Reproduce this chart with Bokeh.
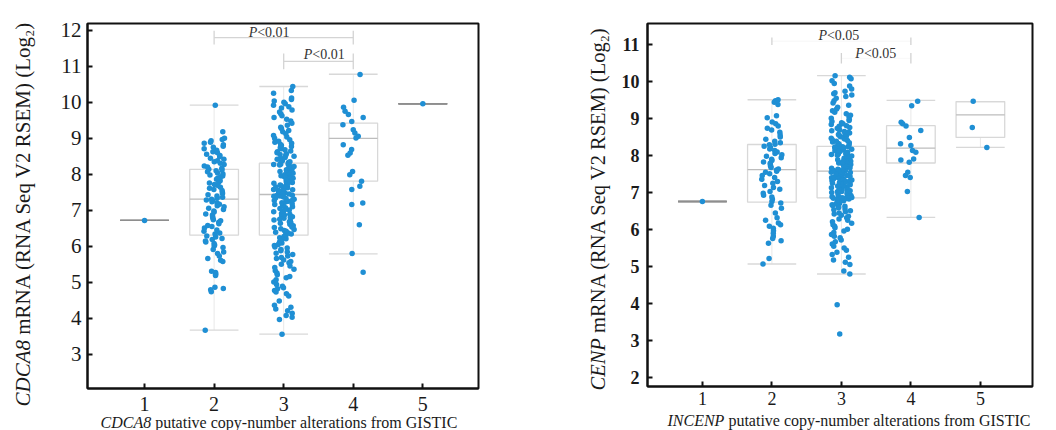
import math
from bokeh.plotting import figure
from bokeh.layouts import row
from bokeh.models import FixedTicker, Label, ColumnDataSource, Range1d
from bokeh.core.properties import value
from bokeh.embed import file_html
from bokeh.resources import INLINE

FONT = "Liberation Serif"

# ---------------- data ----------------
groups = [1, 2, 3, 4, 5]

# CDCA8 expression per copy-number group
cdca8_g1 = [6.72]
cdca8_g2 = [3.67, 4.74, 4.79, 4.83, 4.86, 5.19, 5.22, 5.24, 5.27, 5.31, 5.58, 5.61, 5.66, 5.73, 5.80,
            5.84, 5.91, 5.97, 6.01, 6.04, 6.08, 6.12, 6.15, 6.19, 6.22, 6.26, 6.29,
            6.34, 6.37, 6.42, 6.45, 6.51, 6.55, 6.58, 6.63, 6.67, 6.71, 6.74, 6.79, 6.82, 6.87,
            6.90, 6.95, 6.98, 7.02, 7.06, 7.10, 7.13, 7.17, 7.21, 7.24, 7.27, 7.29, 7.31,
            7.34, 7.36, 7.40, 7.43, 7.47, 7.50, 7.55, 7.58, 7.61, 7.64, 7.69, 7.72, 7.76, 7.79,
            7.82, 7.86, 7.89, 7.92, 7.95, 7.98, 8.01, 8.04, 8.07, 8.10, 8.12, 8.14,
            8.17, 8.20, 8.23, 8.27, 8.31, 8.35, 8.38, 8.42, 8.45, 8.49, 8.52, 8.56, 8.60, 8.63,
            8.67, 8.71, 8.75, 8.78, 8.82, 8.86, 8.89, 8.93, 8.97, 9.00, 9.18, 9.92]
cdca8_g3 = [3.56, 3.97, 4.03, 4.08, 4.14, 4.21, 4.26, 4.31, 4.36, 4.48, 4.62, 4.68, 4.73, 4.77, 4.82,
            4.85, 4.89, 4.94, 5.01, 5.07, 5.13, 5.16, 5.21, 5.26, 5.32, 5.36, 5.41, 5.45, 5.50,
            5.54, 5.58, 5.62, 5.66, 5.69, 5.73, 5.77, 5.81, 5.84, 5.88, 5.91, 5.95, 5.98, 6.02,
            6.05, 6.09, 6.12, 6.15, 6.18, 6.21, 6.24, 6.27, 6.30,
            6.32, 6.34, 6.37, 6.39, 6.42, 6.44, 6.47, 6.49, 6.52, 6.54, 6.57, 6.59, 6.61, 6.64,
            6.66, 6.68, 6.71, 6.73, 6.75, 6.78, 6.80, 6.82, 6.85, 6.87, 6.89, 6.91, 6.94, 6.96,
            6.98, 7.01, 7.03, 7.05, 7.07, 7.10, 7.12, 7.14, 7.16, 7.18, 7.21, 7.23, 7.25, 7.27,
            7.29, 7.31, 7.33, 7.35, 7.37, 7.39, 7.40, 7.41, 7.42, 7.43,
            7.45, 7.47, 7.48, 7.50, 7.52, 7.53, 7.55, 7.57, 7.58, 7.60, 7.62, 7.63, 7.65, 7.67,
            7.68, 7.70, 7.72, 7.73, 7.75, 7.77, 7.78, 7.80, 7.82, 7.84, 7.85, 7.87, 7.89, 7.90,
            7.92, 7.94, 7.96, 7.97, 7.99, 8.01, 8.03, 8.04, 8.06, 8.08, 8.10, 8.12, 8.13, 8.15,
            8.17, 8.19, 8.21, 8.22, 8.24, 8.26, 8.27, 8.28, 8.29, 8.30,
            8.33, 8.35, 8.38, 8.40, 8.42, 8.45, 8.47, 8.50, 8.52, 8.55, 8.57, 8.60, 8.63, 8.65,
            8.68, 8.71, 8.74, 8.77, 8.80, 8.83, 8.86, 8.89, 8.92, 8.96, 9.00, 9.04, 9.08, 9.13,
            9.18, 9.22, 9.27, 9.31, 9.36, 9.42, 9.48, 9.53, 9.58, 9.63, 9.68, 9.73, 9.79, 9.84,
            9.88, 9.92, 9.96, 10.00, 10.04, 10.08, 10.12, 10.25, 10.33, 10.44]
cdca8_g4 = [10.77, 10.06, 9.86, 9.75, 9.66, 9.58, 9.47, 9.38, 9.24, 9.15, 9.06, 9.01, 8.82, 8.69,
            8.59, 8.53, 8.08, 7.99, 7.81, 7.67, 7.58, 7.20, 7.16, 6.60, 5.80, 5.28]
cdca8_g5 = [9.96]

# CDCA8 box statistics
cdca8_lo = [6.72, 3.67, 3.56, 5.79, 9.96]
cdca8_q1 = [6.72, 6.31, 6.31, 7.81, 9.96]
cdca8_med = [6.72, 7.31, 7.44, 9.00, 9.96]
cdca8_q3 = [6.72, 8.14, 8.31, 9.42, 9.96]
cdca8_hi = [6.72, 9.92, 10.44, 10.78, 9.96]

# INCENP expression per copy-number group
incenp_g1 = [6.76]
incenp_g2 = [5.07, 5.22, 5.63, 5.70, 5.76, 5.82, 5.90, 5.97, 6.04, 6.09, 6.13, 6.18, 6.25, 6.32, 6.45,
             6.58, 6.66, 6.72,
             6.76, 6.82, 6.88, 6.93, 6.98, 7.03, 7.09, 7.14, 7.19, 7.25, 7.30, 7.36, 7.41, 7.46,
             7.51, 7.55, 7.58, 7.61,
             7.64, 7.68, 7.71, 7.75, 7.79, 7.83, 7.87, 7.90, 7.94, 7.98, 8.02, 8.06, 8.10, 8.14,
             8.18, 8.22, 8.25, 8.29,
             8.31, 8.35, 8.39, 8.44, 8.50, 8.56, 8.63, 8.69, 8.74, 8.80, 8.86, 8.91, 9.02, 9.08,
             9.38, 9.44, 9.48, 9.51]
incenp_g3 = [3.18, 3.97, 4.80, 4.88, 5.06, 5.12, 5.18, 5.25, 5.33, 5.39, 5.44, 5.50, 5.55, 5.61, 5.67,
             5.72, 5.78, 5.82, 5.87, 5.92, 5.96, 6.01, 6.05, 6.09, 6.13, 6.17, 6.21, 6.25, 6.29,
             6.32, 6.36, 6.39, 6.42, 6.45, 6.48, 6.51, 6.54, 6.56, 6.59, 6.61, 6.63, 6.65, 6.67,
             6.69, 6.71, 6.73, 6.75, 6.76, 6.78, 6.79, 6.80, 6.81, 6.82, 6.83, 6.84, 6.85, 6.85, 6.86,
             6.87, 6.88, 6.89, 6.91, 6.92, 6.93, 6.94, 6.95, 6.97, 6.98, 6.99, 7.00, 7.02, 7.03,
             7.04, 7.05, 7.07, 7.08, 7.09, 7.10, 7.12, 7.13, 7.14, 7.16, 7.17, 7.18, 7.20, 7.21,
             7.22, 7.24, 7.25, 7.26, 7.28, 7.29, 7.30, 7.32, 7.33, 7.34, 7.36, 7.37, 7.38, 7.40,
             7.41, 7.42, 7.44, 7.45, 7.46, 7.48, 7.49, 7.50, 7.51, 7.52, 7.53, 7.54, 7.55, 7.56, 7.57,
             7.59, 7.60, 7.61, 7.62, 7.63, 7.64, 7.65, 7.66, 7.67, 7.69, 7.70, 7.71, 7.72, 7.73,
             7.74, 7.76, 7.77, 7.78, 7.79, 7.80, 7.82, 7.83, 7.84, 7.85, 7.86, 7.88, 7.89, 7.90,
             7.91, 7.93, 7.94, 7.95, 7.96, 7.98, 7.99, 8.00, 8.01, 8.03, 8.04, 8.05, 8.07, 8.08,
             8.09, 8.11, 8.12, 8.13, 8.15, 8.16, 8.17, 8.19, 8.20, 8.21, 8.22, 8.23, 8.24, 8.24, 8.25,
             8.27, 8.29, 8.31, 8.33, 8.35, 8.37, 8.39, 8.41, 8.43, 8.45, 8.47, 8.49, 8.51, 8.53,
             8.55, 8.57, 8.59, 8.61, 8.63, 8.65, 8.67, 8.69, 8.72, 8.74, 8.76, 8.79, 8.81, 8.84,
             8.86, 8.89, 8.92, 8.95, 8.98, 9.01, 9.05, 9.09, 9.13, 9.17, 9.21, 9.26, 9.31, 9.36,
             9.42, 9.48, 9.55, 9.60, 9.64, 9.67, 9.70, 9.74, 9.80, 9.88, 9.95, 10.02, 10.08, 10.12,
             10.16]
incenp_g4 = [9.47, 9.35, 8.90, 8.86, 8.80, 8.68, 8.49, 8.32, 8.27, 8.14, 8.09, 7.91, 7.88, 7.82,
             7.55, 7.46, 7.41, 7.03, 6.33]
incenp_g5 = [9.47, 8.76, 8.22]

incenp_lo = [6.76, 5.07, 4.80, 6.33, 8.22]
incenp_q1 = [6.76, 6.74, 6.86, 7.80, 8.49]
incenp_med = [6.76, 7.62, 7.58, 8.20, 9.10]
incenp_q3 = [6.76, 8.30, 8.25, 8.81, 9.46]
incenp_hi = [6.76, 9.51, 10.16, 9.49, 9.46]

cdca8_ticks = [3, 4, 5, 6, 7, 8, 9, 10, 11, 12]
incenp_ticks = [2, 3, 4, 5, 6, 7, 8, 9, 10, 11]

cdca8_pairs = [(2, 4), (3, 4)]
cdca8_ptext = ["<0.01", "<0.01"]
incenp_pairs = [(2, 4), (3, 4)]
incenp_ptext = ["<0.05", "<0.05"]

# ---------------- helpers ----------------
TIMES_I = {"C": 667, "D": 722, "A": 611, "8": 500, "E": 611, "N": 667, "P": 611, "I": 333}


def em_w(s):
    return sum(TIMES_I.get(c, 500) for c in s) / 1000.0


def jitter(n, seed):
    if n == 1:
        return [0.0]
    out = []
    for i in range(n):
        h = math.sin((i + 1) * 12.9898 + seed * 78.233) * 43758.5453
        out.append((h - math.floor(h) - 0.5) * 0.30)
    return out


def title_text(p, x, y, text, size, style="normal", angle=0.0):
    # drawn at overlay level so it is not clipped to the frame
    p.text(x=[x], y=[y], text=[text], text_font=value(FONT), text_font_size=value(f"{size}px"),
           text_font_style=value(style), text_color="#1a1a1a", angle=angle,
           text_align="left", text_baseline="middle", level="overlay")


def build(cfg):
    xr, yr = cfg["xr"], cfg["yr"]
    fw, fh = cfg["fw"], cfg["fh"]
    p = figure(output_backend="svg", toolbar_location=None,
               x_range=Range1d(*xr), y_range=Range1d(*yr),
               frame_width=fw, frame_height=fh,
               min_border_left=cfg["bl"], min_border_right=cfg["br"],
               min_border_top=cfg["bt"], min_border_bottom=cfg["bb"],
               background_fill_color="white", border_fill_color="white")
    ppx = fw / (xr[1] - xr[0])
    ppy = fh / (yr[1] - yr[0])
    p.xgrid.visible = False
    p.ygrid.visible = False
    p.outline_line_color = "#111111"
    p.outline_line_width = 2
    p.outline_line_alpha = 1
    for ax in (p.xaxis[0], p.yaxis[0]):
        ax.axis_line_color = "#111111"
        ax.axis_line_width = 2
        ax.major_tick_in = 5
        ax.major_tick_out = 0
        ax.major_tick_line_color = "#111111"
        ax.major_tick_line_width = 2
        ax.minor_tick_line_color = None
        ax.major_label_text_font = FONT
        ax.major_label_text_color = "#1a1a1a"
    p.xaxis.major_label_text_font_size = cfg["xtick_size"]
    p.yaxis.major_label_text_font_size = cfg["ytick_size"]
    p.yaxis.major_label_text_font_style = "bold" if cfg["bold"] else "normal"
    p.xaxis.ticker = FixedTicker(ticks=groups)
    p.yaxis.ticker = FixedTicker(ticks=cfg["yticks"])
    p.xaxis.major_label_standoff = cfg["xstand"]
    p.yaxis.major_label_standoff = cfg["ystand"]

    lo, q1, med, q3, hi = cfg["stats"]
    single = [a == b for a, b in zip(q1, q3)]
    hw = 0.35
    src = ColumnDataSource(dict(
        x=groups, l=[g - hw for g in groups], r=[g + hw for g in groups],
        lo=lo, q1=q1, med=med, q3=q3, hi=hi,
        box_c=["#8e8e8e" if s else "#d8d8d8" for s in single],
        med_c=["#8e8e8e" if s else "#bdbdbd" for s in single]))
    p.segment(x0="x", y0="lo", x1="x", y1="q1", source=src, line_color="#e8e8e8", line_width=1)
    p.segment(x0="x", y0="q3", x1="x", y1="hi", source=src, line_color="#e8e8e8", line_width=1)
    p.segment(x0="l", y0="lo", x1="r", y1="lo", source=src, line_color="box_c", line_width=1.3)
    p.segment(x0="l", y0="hi", x1="r", y1="hi", source=src, line_color="box_c", line_width=1.3)
    p.quad(left="l", right="r", bottom="q1", top="q3", source=src,
           fill_color=None, line_color="box_c", line_width=1.3)
    p.segment(x0="l", y0="med", x1="r", y1="med", source=src, line_color="med_c", line_width=1.3)

    xs, ys = [], []
    for gi, vals in zip(groups, cfg["values"]):
        j = jitter(len(vals), gi)
        xs += [gi + d for d in j]
        ys += list(vals)
    p.scatter(xs, ys, size=5.5, fill_color="#1f8fd4", line_color=None)

    # significance brackets
    for (a, b), (ly, th), col in zip(cfg["pairs"], cfg["br_pos"], cfg["br_cols"]):
        p.segment(x0=[a], y0=[ly], x1=[b], y1=[ly], line_color=col[0], line_width=1.3)
        p.segment(x0=[a, b], y0=[ly - th, ly - th], x1=[a, b], y1=[ly + th, ly + th],
                  line_color=col[1], line_width=1.3)
    for (px, py), t in zip(cfg["p_pos"], cfg["ptext"]):
        p.add_layout(Label(x=px, y=py, text="P", text_font=FONT, text_font_size="14px",
                           text_font_style="italic", text_color="#333333",
                           text_align="left", text_baseline="middle"))
        p.add_layout(Label(x=px + 0.611 * 14 / ppx, y=py, text=t, text_font=FONT,
                           text_font_size="14px", text_color="#333333",
                           text_align="left", text_baseline="middle"))

    # y-axis title (italic gene + regular rest)
    ys_ = cfg["ylab_size"]
    gx = xr[0] - cfg["ylab_dx"] / ppx
    gy = yr[0] - cfg["ylab_dy"] / ppy
    title_text(p, gx, gy, cfg["gene_y"], ys_, "italic", math.pi / 2)
    title_text(p, gx, gy + (em_w(cfg["gene_y"]) + 0.25) * ys_ / ppy,
               "mRNA (RNA Seq V2 RSEM) (Log\u2082)", ys_, "normal", math.pi / 2)

    # x-axis title
    xs_ = cfg["xlab_size"]
    xx = xr[0] + cfg["xlab_dx"] / ppx
    xy = yr[0] - cfg["xlab_dy"] / ppy
    title_text(p, xx, xy, cfg["gene_x"], xs_, "italic")
    title_text(p, xx + (em_w(cfg["gene_x"]) + 0.25) * xs_ / ppx, xy,
               "putative copy-number alterations from GISTIC", xs_, "normal")
    return p


left = build(dict(
    xr=(0.18, 5.80), yr=(2.05, 12.19), fw=391, fh=365, bl=87, br=90, bt=22, bb=43,
    bold=False, xtick_size="20px", ytick_size="21px", xstand=8, ystand=6,
    yticks=cdca8_ticks,
    stats=(cdca8_lo, cdca8_q1, cdca8_med, cdca8_q3, cdca8_hi),
    values=[cdca8_g1, cdca8_g2, cdca8_g3, cdca8_g4, cdca8_g5],
    pairs=cdca8_pairs, br_pos=[(11.80, 0.19), (11.14, 0.22)],
    br_cols=[("#d4d4d4", "#d4d4d4"), ("#d4d4d4", "#d4d4d4")],
    p_pos=[(2.496, 11.94), (3.288, 11.33)], ptext=cdca8_ptext,
    gene_y="CDCA8", ylab_size=21, ylab_dx=65, ylab_dy=18,
    gene_x="CDCA8", xlab_size=16, xlab_dx=13, xlab_dy=34))

right = build(dict(
    xr=(0.21, 5.75), yr=(1.76, 11.57), fw=385, fh=363, bl=79, br=24, bt=23, bb=44,
    bold=True, xtick_size="18px", ytick_size="18px", xstand=5, ystand=8,
    yticks=incenp_ticks,
    stats=(incenp_lo, incenp_q1, incenp_med, incenp_q3, incenp_hi),
    values=[incenp_g1, incenp_g2, incenp_g3, incenp_g4, incenp_g5],
    pairs=incenp_pairs, br_pos=[(11.09, 0.10), (10.63, 0.14)],
    br_cols=[("#f9f9f9", "#d2d2d2"), ("#f9f9f9", "#d2d2d2")],
    p_pos=[(2.669, 11.24), (3.201, 10.76)], ptext=incenp_ptext,
    gene_y="CENP", ylab_size=20.5, ylab_dx=50, ylab_dy=4,
    gene_x="INCENP", xlab_size=16, xlab_dx=20, xlab_dy=34))

layout = row(left, right)
open("out.html", "w").write(file_html(layout, INLINE))
